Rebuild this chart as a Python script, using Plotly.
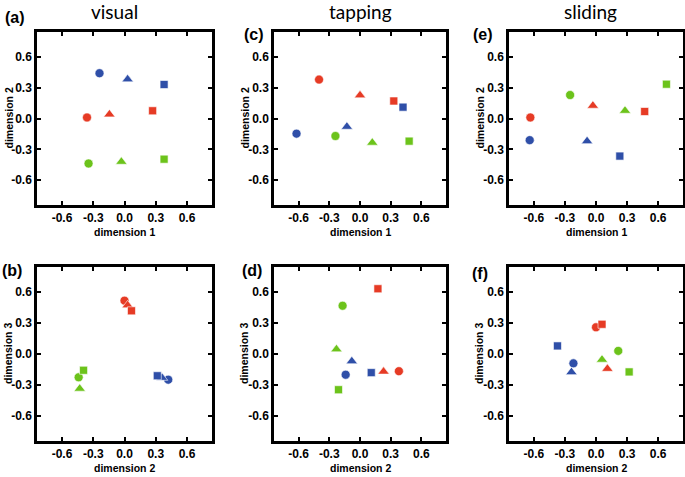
import plotly.graph_objects as go
from plotly.subplots import make_subplots

# groups: blue, red, green ; shapes: circle, triangle, square
group_colors = ["#2f4fa8", "#e63b25", "#6cc31b"]
shapes = ["circle", "triangle-up", "square"]
shape_sizes = [9, 10, 8]

# (a) visual: dimension 1 vs dimension 2
a_x = [[-0.24, 0.03, 0.38], [-0.36, -0.145, 0.27], [-0.345, -0.03, 0.38]]
a_y = [[0.44, 0.38, 0.33], [0.01, 0.04, 0.075], [-0.437, -0.42, -0.395]]
# (c) tapping: dimension 1 vs dimension 2
c_x = [[-0.62, -0.128, 0.42], [-0.40, 0.0, 0.33], [-0.24, 0.12, 0.48]]
c_y = [[-0.147, -0.08, 0.11], [0.378, 0.225, 0.17], [-0.17, -0.235, -0.22]]
# (e) sliding: dimension 1 vs dimension 2
e_x = [[-0.64, -0.086, 0.23], [-0.634, -0.03, 0.47], [-0.25, 0.28, 0.68]]
e_y = [[-0.21, -0.22, -0.365], [0.01, 0.124, 0.068], [0.228, 0.075, 0.333]]
# (b) visual: dimension 2 vs dimension 3
b_x = [[0.42, 0.36, 0.315], [0.0, 0.03, 0.067], [-0.44, -0.43, -0.393]]
b_y = [[-0.248, -0.23, -0.21], [0.515, 0.47, 0.417], [-0.225, -0.335, -0.157]]
# (d) tapping: dimension 2 vs dimension 3
d_x = [[-0.14, -0.08, 0.11], [0.38, 0.23, 0.175], [-0.17, -0.23, -0.21]]
d_y = [[-0.2, -0.07, -0.18], [-0.166, -0.17, 0.63], [0.466, 0.045, -0.345]]
# (f) sliding: dimension 2 vs dimension 3
f_x = [[-0.218, -0.237, -0.372], [0.0, 0.11, 0.058], [0.215, 0.058, 0.32]]
f_y = [[-0.09, -0.175, 0.078], [0.258, -0.143, 0.287], [0.03, -0.055, -0.173]]

tick_vals = [-0.6, -0.3, 0.0, 0.3, 0.6]
tick_text = ["-0.6", "-0.3", "0.0", "0.3", "0.6"]

W, H = 685, 477
col_px = [(37, 212), (274, 446), (509, 683)]
row_px = [(32, 205), (267, 441)]

panels = [
    (1, 1, a_x, a_y, "(a)", "dimension 1", "dimension 2"),
    (1, 2, c_x, c_y, "(c)", "dimension 1", "dimension 2"),
    (1, 3, e_x, e_y, "(e)", "dimension 1", "dimension 2"),
    (2, 1, b_x, b_y, "(b)", "dimension 2", "dimension 3"),
    (2, 2, d_x, d_y, "(d)", "dimension 2", "dimension 3"),
    (2, 3, f_x, f_y, "(f)", "dimension 2", "dimension 3"),
]
label_pos = {"(a)": (15, 18), "(c)": (254, 34), "(e)": (483, 34),
             "(b)": (12, 270), "(d)": (252, 270), "(f)": (480, 273)}
ytitle_x = [8, 244, 479]

fig = make_subplots(rows=2, cols=3)
font = "Liberation Sans, Arial, sans-serif"
anns = []


def ann(text, px, py, size, fam=font, weight="bold", angle=0):
    # place text centred on a pixel position of the page
    return dict(text=text, x=px / W, y=1 - py / H, xref="paper", yref="paper",
                xanchor="center", yanchor="middle", showarrow=False, textangle=angle,
                font=dict(family=fam, size=size, color="black", weight=weight))


for row, col, px, py, lab, xt, yt in panels:
    for g in range(3):
        for s in range(3):
            fig.add_trace(go.Scatter(
                x=[px[g][s]], y=[py[g][s]], mode="markers",
                marker=dict(color=group_colors[g], symbol=shapes[s], size=shape_sizes[s],
                            line=dict(color="white", width=0.6)),
                showlegend=False), row=row, col=col)
    x0, x1 = col_px[col - 1]
    y0, y1 = row_px[row - 1]
    axis_common = dict(range=[-0.84, 0.84], tickvals=tick_vals, ticktext=tick_text,
                       showgrid=False, zeroline=False, showline=True, mirror="ticks",
                       linecolor="black", linewidth=2.5, ticks="inside", ticklen=4,
                       tickwidth=2, tickcolor="black",
                       tickfont=dict(family=font, size=12, color="black", weight="bold"))
    fig.update_xaxes(domain=[x0 / W, x1 / W], row=row, col=col, **axis_common)
    fig.update_yaxes(domain=[1 - y1 / H, 1 - y0 / H], row=row, col=col, **axis_common)
    anns.append(ann(xt, (x0 + x1) / 2, y1 + 27, 10.5))
    anns.append(ann(yt, ytitle_x[col - 1], (y0 + y1) / 2, 10.5, angle=-90))
    lx, ly = label_pos[lab]
    anns.append(ann(lab, lx, ly, 16))

for name, cx in [("visual", 115), ("tapping", 360), ("sliding", 590)]:
    anns.append(ann(name, cx, 12, 19, fam="Lato, sans-serif", weight="normal"))

fig.update_layout(width=W, height=H, margin=dict(l=0, r=0, t=0, b=0),
                  plot_bgcolor="white", paper_bgcolor="white", annotations=anns)

fig.write_html("out.html", config={"displayModeBar": False},
               post_script="document.body.style.margin='0';")
